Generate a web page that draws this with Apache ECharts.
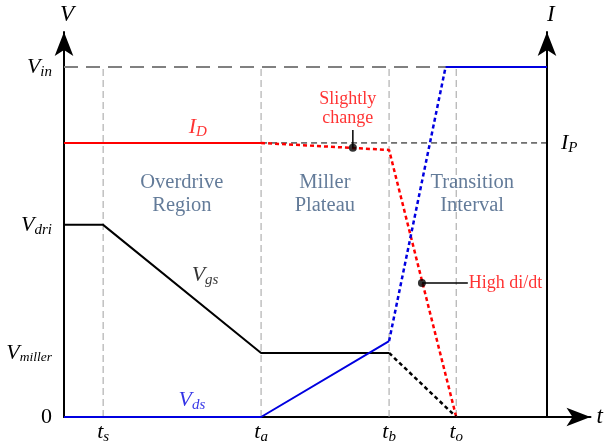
<!DOCTYPE html>
<html>
<head>
<meta charset="utf-8">
<script src="https://cdn.jsdelivr.net/npm/echarts@6/dist/echarts.min.js"></script>
<style>
  html, body { margin: 0; padding: 0; background: #fff; }
  #chart { width: 613px; height: 443px; }
</style>
</head>
<body>
<div id="chart"></div>
<script>
// time marks (x) and levels (y)
const tNames = ['s', 'a', 'b', 'o'];
const tValues = [0.81, 4.08, 6.73, 8.12];
const vNames = ['in', 'dri', 'miller', ''];
const vValues = [10, 5.49, 1.83, 0];
const ipValue = 7.83;

// waveforms
const vdsSolid = [[0, 0], [4.08, 0], [6.73, 2.17]];
const vdsDotted = [[6.73, 2.17], [7.9, 10]];
const vdsTop = [[7.9, 10], [10, 10]];
const idSolid = [[0, 7.83], [4.08, 7.83]];
const idDotted = [[4.08, 7.83], [6.73, 7.63], [8.12, 0]];
const vgsSolid = [[0, 5.49], [0.81, 5.49], [4.08, 1.83], [6.73, 1.83]];
const vgsDotted = [[6.73, 1.83], [8.12, 0]];
const vinLine = [[0, 10], [10, 10]];
const ipLine = [[4.08, 7.83], [10, 7.83]];

// annotations
const regionLabels = [
  { name: 'Overdrive\nRegion', value: [2.44, 6.36] },
  { name: 'Miller\nPlateau', value: [5.4, 6.36] },
  { name: 'Transition\nInterval', value: [8.45, 6.36] }
];
const slightDot = [5.98, 7.69];
const slightTip = [5.98, 8.2];
const highDot = [7.41, 3.83];
const highEnd = [8.36, 3.83];

const chart = echarts.init(document.getElementById('chart'));
const serif = 'Liberation Serif';
const black = '#000';
const red = '#ff0000';
const blue = '#0000e0';
const regionColor = '#3c5a80';

function line(data, color, width, type, z) {
  return {
    type: 'line', data: data, symbol: 'none', silent: true, z: z || 3,
    lineStyle: { color: color, width: width, type: type || 'solid' },
    animation: false
  };
}

function subRich(color) {
  return {
    v: { fontFamily: serif, fontStyle: 'italic', fontSize: 22, color: color },
    s: { fontFamily: serif, fontStyle: 'italic', fontSize: 15, color: color, padding: [10, 0, 0, 0] },
    m: { fontFamily: serif, fontStyle: 'italic', fontSize: 13.5, color: color, padding: [10, 0, 0, 0] },
    n: { fontFamily: serif, fontSize: 22, color: color }
  };
}
const rich = subRich(black);

const vertical = tValues.map(t => line([[t, 0], [t, 10]], '#a0a0a0', 1, [7, 4], 1));

const option = {
  backgroundColor: '#fff',
  animation: false,
  grid: { left: 64, top: 32, width: 526.5, height: 385, outerBoundsMode: 'none', containLabel: false },
  xAxis: {
    type: 'value', min: 0, max: 10.9,
    splitLine: { show: false },
    axisTick: { show: false },
    axisLine: { lineStyle: { color: black, width: 2 }, symbol: ['none', 'arrow'], symbolSize: [14, 24] },
    axisLabel: {
      customValues: tValues,
      margin: 3,
      formatter: v => '{v|t}{s|' + tNames[tValues.indexOf(v)] + '}',
      rich: rich
    },
    name: 't', nameLocation: 'end', nameGap: 6,
    nameTextStyle: { fontFamily: serif, fontStyle: 'italic', fontSize: 23, color: black }
  },
  yAxis: [{
    type: 'value', min: 0, max: 11,
    splitLine: { show: false },
    axisTick: { show: false },
    axisLine: { onZero: false, lineStyle: { color: black, width: 2 }, symbol: ['none', 'arrow'], symbolSize: [14, 24] },
    axisLabel: {
      customValues: vValues,
      margin: 12,
      formatter: v => {
        const i = vValues.indexOf(v);
        if (!vNames[i]) return '{n|0}';
        const sub = vNames[i].length > 3 ? 'm' : 's';
        return '{v|V}{' + sub + '|' + vNames[i] + '}';
      },
      rich: rich
    },
    name: 'V', nameLocation: 'end', nameGap: 6,
    nameTextStyle: { fontFamily: serif, fontStyle: 'italic', fontSize: 23, color: black, align: 'left', padding: [0, 0, 0, -4] }
  }, {
    type: 'value', min: 0, max: 11, position: 'right', offset: -43.5,
    splitLine: { show: false },
    axisTick: { show: false },
    axisLine: { show: true, onZero: false, lineStyle: { color: black, width: 2 }, symbol: ['none', 'arrow'], symbolSize: [14, 24] },
    axisLabel: {
      customValues: [ipValue],
      margin: 14,
      formatter: () => '{v|I}{s|P}',
      rich: rich
    },
    name: 'I', nameLocation: 'end', nameGap: 6,
    nameTextStyle: { fontFamily: serif, fontStyle: 'italic', fontSize: 23, color: black, align: 'left', padding: [0, 0, 0, 0] }
  }],
  series: vertical.concat([
    line(vinLine, '#808080', 2, [14, 8], 1),
    line(ipLine, black, 1, [6, 4], 1),
    line(idSolid, red, 2),
    line(idDotted, red, 2.5, [4, 3]),
    line(vgsSolid, black, 2),
    line(vgsDotted, black, 2.5, [4, 3]),
    line(vdsSolid, blue, 2, 'solid', 4),
    line(vdsDotted, blue, 2.5, [4, 3], 4),
    line(vdsTop, blue, 2, 'solid', 4),
    line([slightDot, slightTip], black, 1.5, 'solid', 5),
    line([highDot, highEnd], black, 1.5, 'solid', 5),
    {
      type: 'scatter', silent: true, z: 6, symbolSize: 8,
      itemStyle: { color: black },
      data: [slightDot, highDot]
    },
    {
      type: 'scatter', silent: true, z: 6, symbolSize: 0,
      data: [
        { value: slightTip, label: { show: true, position: 'top', distance: 2, offset: [-5, 0], formatter: 'Slightly\nchange', color: red, fontSize: 18, lineHeight: 19, fontFamily: serif } },
        { value: highEnd, label: { show: true, position: 'right', distance: 1, formatter: 'High di/dt', color: red, fontSize: 18, fontFamily: serif } },
        { value: [2.77, 8.29], label: { show: true, position: 'inside', formatter: '{v|I}{s|D}', rich: subRich(red) } },
        { value: [2.92, 4.06], label: { show: true, position: 'inside', formatter: '{v|V}{s|gs}', rich: rich } },
        { value: [2.65, 0.49], label: { show: true, position: 'inside', formatter: '{v|V}{s|ds}', rich: subRich(blue) } }
      ]
    },
    {
      type: 'scatter', silent: true, z: 6, symbolSize: 0,
      label: { show: true, position: 'inside', formatter: p => p.name, color: regionColor, fontSize: 20.5, lineHeight: 23, fontFamily: serif },
      data: regionLabels
    }
  ])
};
chart.setOption(option);
</script>
</body>
</html>
